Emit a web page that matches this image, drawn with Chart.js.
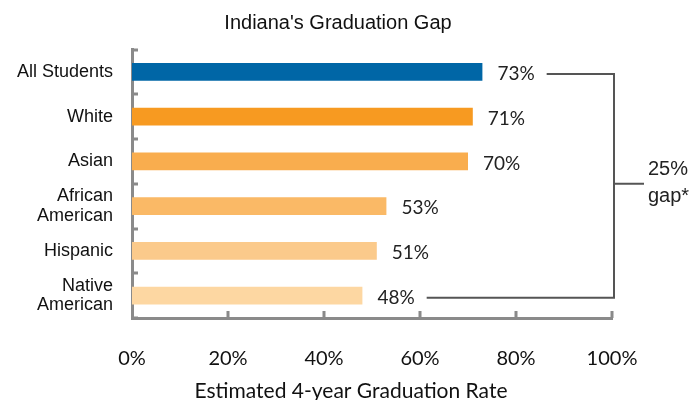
<!DOCTYPE html>
<html>
<head>
<meta charset="utf-8">
<title>Indiana's Graduation Gap</title>
<script src="https://cdn.jsdelivr.net/npm/chart.js@4.4.1/dist/chart.umd.min.js"></script>
<style>
    body { margin: 0; background: #fff; }
    #wrap { width: 693px; height: 400px; position: relative; }
</style>
</head>
<body>
<div id="wrap"><canvas id="gapChart"></canvas></div>
<script>
// chart data
const chartTitle = "Indiana's Graduation Gap";
const axisTitle = 'Estimated 4-year Graduation Rate';
const groups = ['All Students', 'White', 'Asian', ['African', 'American'], 'Hispanic', ['Native', 'American']];
const gradRates = [73, 71, 70, 53, 51, 48];
const barColors = ['#0066a6', '#f79a21', '#f9ad4e', '#fab966', '#fbca8b', '#fdd7a2'];
const rateTicks = [0, 20, 40, 60, 80, 100];
const gapLabel = ['25%', 'gap*'];

const axisGrey = '#8a8a8a';

// titles, value labels, inner tick marks and the gap bracket
const extrasPlugin = {
    id: 'extras',
    afterDatasetsDraw(chart) {
        const ctx = chart.ctx;
        const xs = chart.scales.x;
        const ys = chart.scales.y;
        const area = chart.chartArea;
        const meta = chart.getDatasetMeta(0);

        ctx.save();
        // titles (both sit a bit left of the plot centre in the original)
        ctx.font = '20px "Liberation Sans", Arial';
        ctx.fillStyle = '#111';
        ctx.textAlign = 'center';
        ctx.textBaseline = 'middle';
        ctx.fillText(chartTitle, 338, 23);
        ctx.font = '21px Lato';
        ctx.fillText(axisTitle, 351, 391);

        // inner tick marks
        ctx.strokeStyle = axisGrey;
        ctx.lineWidth = 3;
        ctx.beginPath();
        for (let i = 0; i <= groups.length; i++) {
            const y = Math.round(ys.getPixelForValue(i - 0.5));
            ctx.moveTo(area.left, y);
            ctx.lineTo(area.left + 6, y);
        }
        rateTicks.slice(1).forEach(v => {
            const x = Math.round(xs.getPixelForValue(v));
            ctx.moveTo(x, area.bottom);
            ctx.lineTo(x, area.bottom - 7);
        });
        ctx.stroke();

        // value labels
        ctx.font = '19px Lato';
        ctx.fillStyle = '#222';
        ctx.textAlign = 'left';
        const labelEnds = [];
        meta.data.forEach((bar, i) => {
            const txt = gradRates[i] + '%';
            const x = bar.x + 15;
            ctx.fillText(txt, x, bar.y + 2);
            labelEnds.push(x + ctx.measureText(txt).width);
        });

        // bracket
        const top = meta.data[0].y + 2;
        const bot = meta.data[meta.data.length - 1].y + 2;
        const right = xs.getPixelForValue(100) + 2;
        const mid = ys.getPixelForValue(2.5);
        ctx.strokeStyle = '#555';
        ctx.lineWidth = 2;
        ctx.beginPath();
        ctx.moveTo(labelEnds[0] + 12, top);
        ctx.lineTo(right, top);
        ctx.lineTo(right, bot);
        ctx.lineTo(labelEnds[labelEnds.length - 1] + 12, bot);
        ctx.moveTo(right, mid);
        ctx.lineTo(right + 30, mid);
        ctx.stroke();

        ctx.font = '20px "Liberation Sans", Arial';
        ctx.fillStyle = '#222';
        ctx.fillText(gapLabel[0], right + 34, mid - 14);
        ctx.fillText(gapLabel[1], right + 34, mid + 13);
        ctx.restore();
    }
};

new Chart(document.getElementById('gapChart'), {
    type: 'bar',
    data: {
        labels: groups,
        datasets: [{
            data: gradRates,
            backgroundColor: barColors,
            categoryPercentage: 1,
            barPercentage: 0.4
        }]
    },
    options: {
        indexAxis: 'y',
        responsive: true,
        maintainAspectRatio: false,
        animation: false,
        layout: { padding: { left: 0, right: 81, top: 49.5, bottom: 0 } },
        plugins: {
            legend: { display: false },
            tooltip: { enabled: false },
            title: { display: false }
        },
        scales: {
            x: {
                min: 0,
                max: 100,
                grid: { display: false, drawTicks: false },
                border: { display: true, color: axisGrey, width: 3 },
                ticks: {
                    stepSize: 20,
                    padding: 29,
                    color: '#111',
                    font: { family: 'Lato', size: 20 },
                    callback: v => v + '%'
                },
                // room for the tick labels and the axis title drawn by the plugin
                afterFit: s => { s.height = 82; }
            },
            y: {
                grid: { display: false, drawTicks: false },
                border: { display: true, color: axisGrey, width: 3 },
                ticks: {
                    padding: 19,
                    color: '#111',
                    font: { family: '"Liberation Sans", Arial', size: 18, lineHeight: 1.1 }
                },
                afterFit: s => { s.width = 132; }
            }
        }
    },
    plugins: [extrasPlugin]
});
</script>
</body>
</html>
